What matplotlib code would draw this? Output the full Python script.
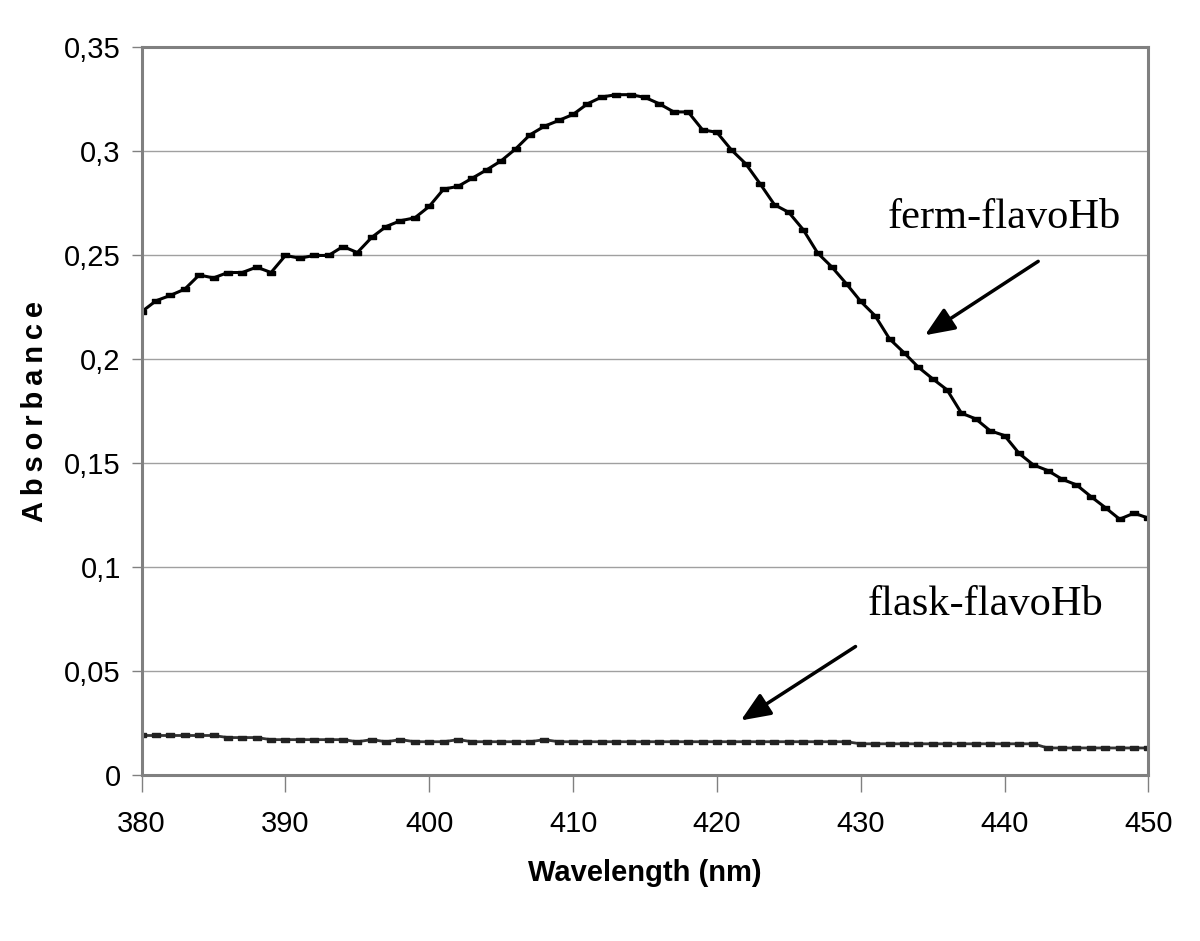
import matplotlib.pyplot as plt
import numpy as np
from matplotlib.ticker import FuncFormatter

# wavelength, 1 nm steps
wavelength = list(range(380, 451))

ferm = [0.2227, 0.228, 0.2306, 0.2336, 0.2404, 0.239, 0.2416, 0.2416, 0.2442, 0.2416,
        0.2498, 0.2485, 0.2498, 0.2498, 0.2541, 0.2512, 0.2585, 0.2637, 0.2665, 0.2679,
        0.2734, 0.2817, 0.283, 0.287, 0.291, 0.2953, 0.301, 0.3078, 0.3119, 0.3147,
        0.3176, 0.3227, 0.326, 0.3271, 0.3271, 0.3258, 0.3227, 0.3188, 0.3188, 0.3102,
        0.309, 0.3006, 0.2939, 0.2843, 0.2742, 0.2705, 0.2622, 0.251, 0.2442, 0.2362,
        0.2277, 0.2208, 0.2097, 0.2031, 0.1961, 0.1905, 0.1852, 0.174, 0.1712, 0.1655,
        0.1632, 0.1547, 0.1491, 0.1464, 0.1422, 0.1395, 0.1339, 0.1286, 0.123, 0.1259,
        0.1235]

flask = [0.019, 0.019, 0.019, 0.019, 0.019, 0.019, 0.018, 0.018, 0.018, 0.017,
         0.017, 0.017, 0.017, 0.017, 0.017, 0.016, 0.017, 0.016, 0.017, 0.016,
         0.016, 0.016, 0.017, 0.016, 0.016, 0.016, 0.016, 0.016, 0.017, 0.016,
         0.016, 0.016, 0.016, 0.016, 0.016, 0.016, 0.016, 0.016, 0.016, 0.016,
         0.016, 0.016, 0.016, 0.016, 0.016, 0.016, 0.016, 0.016, 0.016, 0.016,
         0.015, 0.015, 0.015, 0.015, 0.015, 0.015, 0.015, 0.015, 0.015, 0.015,
         0.015, 0.015, 0.015, 0.013, 0.013, 0.013, 0.013, 0.013, 0.013, 0.013,
         0.013]

dash = [(-1, -0.55), (1, -0.55), (1, 0.55), (-1, 0.55), (-1, -0.55)]

fig = plt.figure(figsize=(12, 9.41), dpi=100)
ax = fig.add_axes([0.118, 0.1764, 0.839, 0.7736])

ax.plot(wavelength, ferm, color='black', lw=2.2, marker=dash, markersize=6,
        markerfacecolor='black', markeredgecolor='black')
ax.plot(wavelength, flask, color='#333333', lw=2, marker=dash, markersize=6,
        markerfacecolor='#222222', markeredgecolor='#222222')

ax.set_xlim(380, 450)
ax.set_ylim(0, 0.35)
ax.set_xticks(np.arange(380, 451, 10))
ax.set_yticks(np.arange(0, 0.351, 0.05))
ax.yaxis.set_major_formatter(FuncFormatter(
    lambda v, p: '0' if abs(v) < 1e-9 else f'{v:.2f}'.rstrip('0').replace('.', ',')))

ax.grid(axis='y', color='#a0a0a0', lw=1)
ax.set_axisbelow(True)
for s in ax.spines.values():
    s.set_color('#808080')
    s.set_linewidth(2.2)
ax.tick_params(axis='x', length=12, width=1, color='#808080', pad=13)
ax.tick_params(axis='y', length=7, width=1, color='#808080', pad=8)
for lab in ax.get_xticklabels() + ax.get_yticklabels():
    lab.set_family(['Liberation Sans', 'DejaVu Sans'])
    lab.set_fontsize(21)

ax.set_xlabel('Wavelength (nm)', fontsize=21, fontweight='bold',
              family=['Liberation Sans', 'DejaVu Sans'], labelpad=15)
ax.set_ylabel('A\u2009b\u2009s\u2009o\u2009r\u2009b\u2009a\u2009n\u2009c\u2009e', fontsize=21,
              fontweight='bold', family=['Liberation Sans', 'DejaVu Sans'], labelpad=11)

serif = ['Liberation Serif', 'DejaVu Serif']
head = '-|>,head_length=1.8,head_width=0.75'
ax.annotate('', xy=(434.3, 0.2107), xytext=(442.5, 0.2477),
            arrowprops=dict(arrowstyle=head, color='black', lw=2.5))
ax.text(440.0, 0.268, 'ferm-flavoHb', fontsize=30.5, family=serif,
        ha='center', va='center')
ax.annotate('', xy=(421.5, 0.0255), xytext=(429.8, 0.0625),
            arrowprops=dict(arrowstyle=head, color='black', lw=2.5))
ax.text(438.7, 0.0818, 'flask-flavoHb', fontsize=30.5, family=serif,
        ha='center', va='center')

fig.savefig('out.png', dpi=100)
